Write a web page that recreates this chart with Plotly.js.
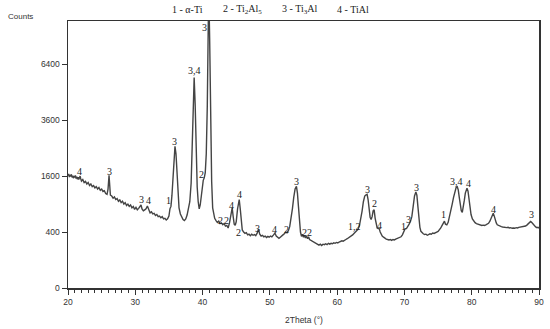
<!DOCTYPE html>
<html>
<head>
<meta charset="utf-8">
<script src="https://cdn.plot.ly/plotly-3.0.1.min.js"></script>
<style>html,body{margin:0;padding:0;background:#fff;}#chart{width:550px;height:329px;}</style>
</head>
<body>
<div id="chart"></div>
<script>
// Diffraction pattern: 2θ (degrees) and intensity (counts)
const twoTheta = [
20.0,20.1,20.2,20.3,20.4,20.5,20.6,20.7,20.8,20.9,21.0,21.1,21.2,21.3,21.4,21.5,21.6,21.7,21.8,21.9,
22.0,22.2,22.4,22.6,22.8,23.0,23.2,23.4,23.6,23.8,24.0,24.2,24.4,24.6,24.8,25.0,25.2,25.4,25.6,25.8,
25.95,26.1,26.2,26.3,26.5,26.7,26.9,27.1,27.3,27.5,27.7,27.9,28.1,28.3,28.5,28.7,28.9,29.1,29.3,29.5,
29.7,29.9,30.1,30.3,30.5,30.7,30.85,31.0,31.2,31.4,31.6,31.8,32.0,32.2,32.4,32.6,32.8,33.0,33.2,33.4,
33.6,33.8,34.0,34.2,34.4,34.6,34.8,35.0,35.15,35.3,35.45,35.6,35.75,35.9,36.05,36.2,36.35,36.5,36.7,36.9,
37.1,37.3,37.5,37.7,37.9,38.1,38.3,38.45,38.6,38.75,38.9,39.05,39.2,39.35,39.5,39.65,39.8,39.95,40.1,40.25,
40.4,40.55,40.7,40.85,40.95,41.05,41.2,41.35,41.5,41.65,41.8,42.0,42.2,42.4,42.6,42.8,43.0,43.2,43.4,43.6,
43.8,44.0,44.2,44.4,44.55,44.7,44.85,45.0,45.2,45.45,45.6,45.75,45.9,46.1,46.3,46.5,46.7,46.9,47.1,47.3,
47.5,47.7,47.9,48.1,48.3,48.5,48.7,48.9,49.1,49.3,49.5,49.7,49.9,50.1,50.3,50.55,50.75,50.95,51.15,51.35,
51.55,51.75,51.95,52.15,52.35,52.55,52.75,52.95,53.15,53.35,53.55,53.75,53.95,54.1,54.25,54.4,54.55,54.7,54.85,55.0,
55.15,55.3,55.45,55.6,55.75,55.9,56.1,56.3,56.5,56.7,56.9,57.1,57.3,57.5,57.7,57.9,58.1,58.3,58.5,58.7,
58.9,59.1,59.3,59.5,59.7,59.9,60.1,60.3,60.5,60.7,60.9,61.1,61.3,61.5,61.7,61.9,62.1,62.3,62.5,62.7,
62.9,63.1,63.3,63.5,63.7,63.9,64.1,64.3,64.45,64.6,64.75,64.9,65.05,65.2,65.35,65.5,65.65,65.8,65.95,66.1,
66.25,66.4,66.55,66.7,66.9,67.1,67.3,67.5,67.7,67.9,68.1,68.3,68.5,68.7,68.9,69.1,69.3,69.5,69.7,69.9,
70.1,70.3,70.5,70.7,70.9,71.1,71.3,71.5,71.7,71.85,72.0,72.15,72.3,72.45,72.6,72.8,73.0,73.2,73.4,73.6,
73.8,74.0,74.2,74.4,74.6,74.8,75.0,75.2,75.4,75.6,75.8,75.95,76.1,76.3,76.5,76.7,76.9,77.1,77.3,77.5,
77.7,77.85,78.0,78.15,78.3,78.45,78.6,78.75,78.9,79.05,79.2,79.3,79.45,79.6,79.75,79.9,80.1,80.3,80.5,80.7,
80.9,81.1,81.3,81.5,81.7,81.9,82.1,82.3,82.5,82.7,82.9,83.05,83.2,83.35,83.5,83.65,83.8,84.0,84.2,84.4,
84.6,84.8,85.0,85.2,85.4,85.6,85.8,86.0,86.2,86.4,86.6,86.8,87.0,87.2,87.4,87.6,87.8,88.0,88.2,88.4,
88.6,88.75,88.9,89.1,89.3,89.5,89.7,89.85,90.0
];
const counts = [
1610,1660,1570,1630,1590,1650,1560,1610,1540,1600,1560,1620,1530,1580,1510,1570,1500,1560,1600,1520,
1460,1500,1420,1450,1380,1420,1340,1380,1310,1340,1280,1310,1250,1290,1220,1250,1190,1210,1140,1120,
1250,1620,1400,1100,1080,1030,1060,1000,1020,960,990,930,960,900,930,870,900,850,880,820,
850,790,830,780,810,840,880,800,760,780,800,860,770,720,740,700,710,670,690,650,
660,630,650,610,620,590,610,660,800,850,1100,1600,2200,2560,2300,1600,1100,820,700,630,
600,580,610,680,800,950,1400,2300,3800,5650,4300,2400,1300,950,800,880,1100,1350,1480,1550,
1700,2300,4200,9000,10500,8000,3800,1450,820,660,620,580,550,570,530,540,510,530,490,500,
460,540,650,820,650,520,500,560,800,1000,800,550,430,400,380,390,360,370,350,370,
355,365,350,380,440,370,345,355,335,345,325,340,330,345,335,360,385,345,325,315,
330,340,360,375,400,390,420,480,600,800,1050,1250,1320,1150,850,560,400,340,370,330,
350,320,345,310,335,300,290,280,275,265,255,250,235,245,230,245,240,250,240,255,
245,255,250,260,255,265,260,270,275,285,280,295,300,310,320,330,340,360,380,400,
420,440,490,600,750,950,1080,1110,1120,1000,800,640,600,650,760,780,620,500,460,450,
450,400,370,345,330,315,305,300,295,300,290,300,295,305,310,315,325,335,360,400,
450,450,480,520,570,650,850,1080,1180,1100,850,620,470,410,390,375,365,370,355,365,
375,370,385,380,395,400,410,430,460,500,560,570,520,510,550,640,760,900,1050,1220,
1300,1310,1230,1050,880,760,730,820,980,1150,1250,1270,1200,1000,820,690,610,570,545,530,
520,510,505,500,505,500,510,520,535,570,640,700,715,660,590,540,510,495,485,480,
475,470,475,465,470,460,465,455,460,455,465,460,470,475,470,480,485,490,505,530,
555,565,550,520,490,475,465,470,455
];
// Y axis tick values (counts) on the square-root intensity scale
const yTickCounts = [0, 400, 1600, 3600, 6400];
const xTicks = [20, 30, 40, 50, 60, 70, 80, 90];
// Phase labels over the peaks
const peakLabels = ["4","3","3","4","1","3","3,4","3","2","2","2","4","2","4","3","4","2","3","22","1,2","3","2","4","1","3","3","1","3,4","4","4","3"];
const peakX = [21.78,26.24,30.95,31.93,35.0,35.9,38.75,40.36,39.87,42.69,43.58,44.37,45.3,45.45,48.16,50.76,52.5,53.95,55.47,62.65,64.47,65.5,66.36,69.93,70.67,71.81,75.87,77.76,79.48,83.19,88.9];
const peakY = [1746,1746,1010,988,988,2756,6020,8689,1658,590,590,878,390,1127,452,440,440,1441,393,490,1250,911,506,490,598,1288,698,1447,1398,790,698];
// Phase legend
const legendItems = ["1 - α-Ti", "2 - Ti<sub>2</sub>Al<sub>5</sub>", "3 - Ti<sub>3</sub>Al", "4 - TiAl"];
const legendX = [37.83, 46.0, 54.47, 62.35];

const sq = v => Math.sqrt(v);

const trace = {
  x: twoTheta,
  y: counts.map(sq),
  type: 'scatter',
  mode: 'lines',
  line: {color: '#444444', width: 1.4},
  hoverinfo: 'skip'
};

const annotations = [];
peakLabels.forEach((t, i) => {
  annotations.push({
    x: peakX[i], y: sq(peakY[i]), xref: 'x', yref: 'y', text: t, showarrow: false,
    font: {family: 'Liberation Serif, Times New Roman, serif', size: 10, color: '#222'},
    xanchor: 'center', yanchor: 'middle'
  });
});
legendItems.forEach((t, i) => {
  annotations.push({
    x: legendX[i], y: 1, xref: 'x', yref: 'paper', yshift: 12, text: t, showarrow: false,
    font: {family: 'Liberation Serif, Times New Roman, serif', size: 10, color: '#222'},
    xanchor: 'center', yanchor: 'middle'
  });
});
annotations.push({
  x: -0.1, y: 1, xref: 'paper', yref: 'paper', yshift: 5, text: 'Counts', showarrow: false,
  font: {family: 'Liberation Sans, Arial, sans-serif', size: 8, color: '#333'},
  xanchor: 'center', yanchor: 'middle'
});
annotations.push({
  x: 0.5, y: 0, xref: 'paper', yref: 'paper', yshift: -32, text: '2Theta (°)', showarrow: false,
  font: {family: 'Liberation Sans, Arial, sans-serif', size: 8.5, color: '#333'},
  xanchor: 'center', yanchor: 'middle'
});

const layout = {
  width: 550, height: 329,
  margin: {l: 68, r: 11, t: 21, b: 41},
  paper_bgcolor: '#fff', plot_bgcolor: '#fff',
  showlegend: false,
  xaxis: {
    range: [20, 90], tickvals: xTicks, ticktext: xTicks.map(String),
    ticks: 'outside', ticklen: 5, tickwidth: 1, tickcolor: '#333',
    minor: {dtick: 1, tick0: 20, ticks: 'outside', ticklen: 3, tickcolor: '#333', tickwidth: 1},
    showline: true, linecolor: '#333', linewidth: 1.5, mirror: true,
    showgrid: false, zeroline: false,
    tickfont: {family: 'Liberation Sans, Arial, sans-serif', size: 8.5, color: '#333'}
  },
  yaxis: {
    range: [0, 95.4], tickvals: yTickCounts.map(sq), ticktext: yTickCounts.map(String),
    ticks: 'outside', ticklen: 5, tickwidth: 1, tickcolor: '#333',
    showline: true, linecolor: '#333', linewidth: 1.5, mirror: true,
    showgrid: false, zeroline: false,
    tickfont: {family: 'Liberation Sans, Arial, sans-serif', size: 8.5, color: '#333'}
  },
  annotations: annotations
};

Plotly.newPlot('chart', [trace], layout, {staticPlot: true, displayModeBar: false});
</script>
</body>
</html>
